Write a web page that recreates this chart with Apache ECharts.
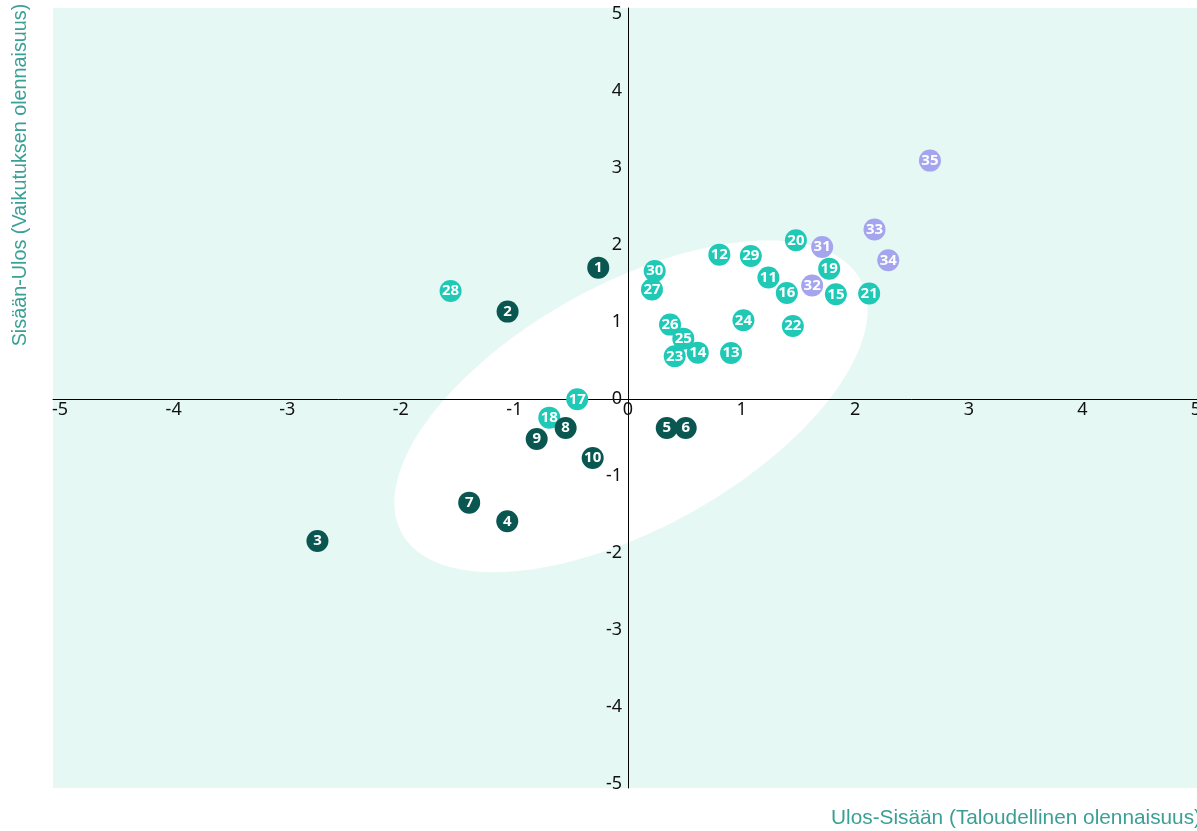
<!DOCTYPE html>
<html><head><meta charset="utf-8">
<script src="https://cdn.jsdelivr.net/npm/echarts@6/dist/echarts.min.js"></script>
<style>html,body{margin:0;padding:0;background:#fff}#c{width:1197px;height:831px}</style>
</head><body><div id="c"></div>
<script>
const ids    = [1,2,3,4,5,6,7,8,9,10,11,12,13,14,15,16,17,18,19,20,21,22,23,24,25,26,27,28,29,30,31,32,33,34,35];
const xVals  = [-0.262,-1.060,-2.734,-1.063,0.341,0.508,-1.398,-0.549,-0.804,-0.311,
                1.236,0.804,0.907,0.614,1.830,1.398,-0.447,-0.693,1.771,1.478,
                2.123,1.451,0.411,1.016,0.487,0.370,0.211,-1.562,1.081,0.235,
                1.709,1.621,2.170,2.291,2.658];
const yVals  = [1.710,1.139,-1.840,-1.584,-0.373,-0.373,-1.342,-0.373,-0.516,-0.762,
                1.581,1.879,0.601,0.606,1.364,1.381,0.0,-0.238,1.697,2.065,
                1.373,0.952,0.558,1.026,0.788,0.970,1.425,1.406,1.861,1.666,
                1.978,1.477,2.205,1.805,3.100];
const groups = ['d','d','d','d','d','d','d','d','d','d',
                't','t','t','t','t','t','t','t','t','t',
                't','t','t','t','t','t','t','t','t','t',
                'l','l','l','l','l'];
const tickValues = [-5,-4,-3,-2,-1,0,1,2,3,4,5];
const xTitle = 'Ulos-Sisään (Taloudellinen olennaisuus)';
const yTitle = 'Sisään-Ulos (Vaikutuksen olennaisuus)';
// ellipse: centre x, centre y, semi-axes (in x-axis units), rotation (deg)
const ellipseSpec = [0.026, -0.091, 2.306, 1.074, 29];
const xRange = [-5.062, 5.009];
const yRange = [-5.048, 5.082];

const groupColor = {d:'#0a5752', t:'#1fc9b6', l:'#a4a5ee'};

const points = ids.map((id,i)=>({
  value:[xVals[i], yVals[i], id],
  itemStyle:{color:groupColor[groups[i]], opacity:1}
})).sort((a,b)=>b.value[1]-a.value[1]);

const chart = echarts.init(document.getElementById('c'), null, {renderer:'canvas'});
const labelStyle = {customValues:tickValues, color:'#111', fontSize:18, fontFamily:'Noto Sans'};
chart.setOption({
  animation:false,
  grid:{left:53, right:0, top:8, bottom:43, show:true, backgroundColor:'#e5f8f3', borderWidth:0, z:0,
        containLabel:false, outerBoundsMode:'none'},
  xAxis:{
    type:'value', min:xRange[0], max:xRange[1], z:2, position:'bottom', offset:0,
    axisLine:{onZero:false, lineStyle:{color:'#000', width:1}},
    axisTick:{show:false}, splitLine:{show:false},
    axisLabel:Object.assign({margin:2}, labelStyle)
  },
  yAxis:{
    type:'value', min:yRange[0], max:yRange[1], z:2, position:'left', offset:0,
    axisLine:{onZero:false, lineStyle:{color:'#000', width:1}},
    axisTick:{show:false}, splitLine:{show:false},
    axisLabel:Object.assign({margin:6}, labelStyle)
  },
  graphic:[
    {type:'text', right:-4, top:808, z:10,
     style:{text:xTitle, fill:'#3a9f95', fontSize:20.8, fontFamily:'Liberation Sans'}},
    {type:'text', x:21, y:175, rotation:Math.PI/2, z:10,
     style:{text:yTitle, fill:'#3a9f95', fontSize:19.8, fontFamily:'Liberation Sans', textAlign:'center', textVerticalAlign:'middle'}}
  ],
  series:[
    {type:'custom', z:1, silent:true, data:[ellipseSpec], encode:{x:0,y:1},
     renderItem:function(params, api){
       const c = api.coord([api.value(0), api.value(1)]);
       const unit = api.size([1,0])[0];
       const a = api.value(2)*unit, b = api.value(3)*unit, th = api.value(4)*Math.PI/180;
       const pts=[];
       for(let i=0;i<240;i++){
         const t=i/240*2*Math.PI, ex=a*Math.cos(t), ey=b*Math.sin(t);
         pts.push([c[0]+ex*Math.cos(th)+ey*Math.sin(th), c[1]-ex*Math.sin(th)+ey*Math.cos(th)]);
       }
       return {type:'polygon', shape:{points:pts}, style:{fill:'#ffffff'}};
     }},
    {type:'scatter', z:3, symbol:'circle', symbolSize:22, data:points,
     emphasis:{disabled:true},
     label:{show:true, position:'inside', formatter:p=>String(p.value[2]), color:'#fff',
            fontWeight:'bold', fontSize:15, fontFamily:'Open Sans'}}
  ]
});
// move both axes (line + labels) to cross at the origin, using the library's own scales
const origin = chart.convertToPixel({gridIndex:0}, [0,0]);
const corner = chart.convertToPixel({gridIndex:0}, [xRange[0], yRange[0]]);
chart.setOption({
  xAxis:{offset: -(corner[1]-origin[1])},
  yAxis:{offset: -(origin[0]-corner[0])}
});
</script>
</body></html>
